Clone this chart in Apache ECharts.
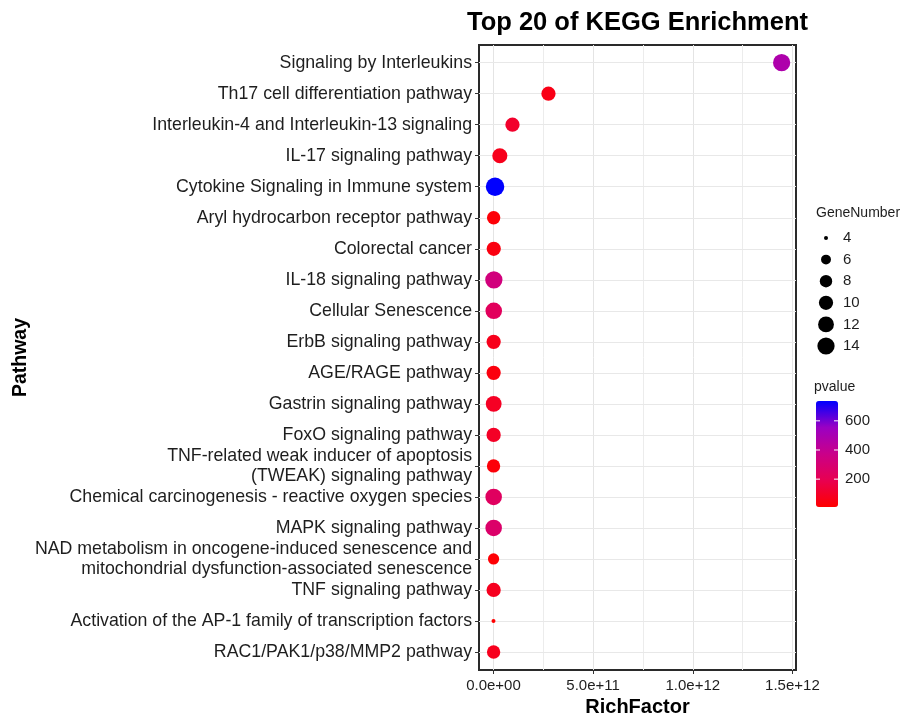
<!DOCTYPE html>
<html>
<head>
<meta charset="utf-8">
<script src="https://cdn.jsdelivr.net/npm/echarts@6/dist/echarts.min.js"></script>
<style>
  html, body { margin: 0; padding: 0; background: #ffffff; }
  #chart { width: 901px; height: 713px; }
</style>
</head>
<body>
<div id="chart"></div>
<script>
// KEGG enrichment: top 20 pathways, ordered top to bottom
const pathways = [
  'Signaling by Interleukins',
  'Th17 cell differentiation pathway',
  'Interleukin-4 and Interleukin-13 signaling',
  'IL-17 signaling pathway',
  'Cytokine Signaling in Immune system',
  'Aryl hydrocarbon receptor pathway',
  'Colorectal cancer',
  'IL-18 signaling pathway',
  'Cellular Senescence',
  'ErbB signaling pathway',
  'AGE/RAGE pathway',
  'Gastrin signaling pathway',
  'FoxO signaling pathway',
  'TNF-related weak inducer of apoptosis\n(TWEAK) signaling pathway',
  'Chemical carcinogenesis - reactive oxygen species',
  'MAPK signaling pathway',
  'NAD metabolism in oncogene-induced senescence and\nmitochondrial dysfunction-associated senescence',
  'TNF signaling pathway',
  'Activation of the AP-1 family of transcription factors',
  'RAC1/PAK1/p38/MMP2 pathway'
];
const richFactor = [
  1.446e12, 2.76e11, 9.55e10, 3.2e10, 8.0e9, 1.0e9, 1.5e9, 2.0e9, 1.5e9, 1.0e9,
  1.0e9, 1.2e9, 1.0e9, 5.0e8, 1.0e9, 1.0e9, 5.0e8, 1.0e9, 3.0e8, 8.0e8
];
const geneNumber = [14, 10, 10, 11, 16, 9, 10, 14, 13, 10, 10, 12, 10, 9, 13, 13, 7, 10, 4, 9];
const pvalue = [480, 60, 110, 70, 736, 25, 45, 330, 230, 70, 40, 90, 95, 30, 240, 270, 20, 80, 9, 75];

// axis ticks and legend breaks
const xMajorTicks = [0, 5e11, 1e12, 1.5e12];
const xMinorTicks = [2.5e11, 7.5e11, 1.25e12];
const sizeBreaks = [4, 6, 8, 10, 12, 14];
const colorBreaks = [200, 400, 600];

const FONT = '"Liberation Sans", Arial, sans-serif';
const TEXT = '#1e1e1e';

const pMin = Math.min(...pvalue), pMax = Math.max(...pvalue);
const gMin = Math.min(...geneNumber), gMax = Math.max(...geneNumber);

// point diameter scales with area (sqrt of rescaled gene count)
function dotSize(g) {
  return 4 + 14.5 * Math.sqrt((g - gMin) / (gMax - gMin));
}

// red -> blue ramp interpolated in Lab space
const ramp = ['#FF0000', '#E80050', '#CA0089', '#9A00C3', '#0000FF'];

function sci(v) {
  if (v === 0) return '0.0e+00';
  const e = Math.floor(Math.log10(Math.abs(v)) + 1e-9);
  const m = v / Math.pow(10, e);
  return m.toFixed(1) + 'e' + (e < 0 ? '-' : '+') + String(Math.abs(e)).padStart(2, '0');
}

const points = pathways.map((p, i) => [richFactor[i], i, geneNumber[i], pvalue[i]]);
const rowIdx = pathways.map((p, i) => i);

// panel geometry
const G = { left: 479, top: 45, right: 105, bottom: 43 };

// legend layout
const sizeLeg = { x: 826, y0: 238, dy: 21.6, labelX: 843 };
const barLeg = { x: 816, top: 401, w: 22, h: 106, labelX: 845 };

const graphics = [];
graphics.push({
  type: 'text', left: 816, top: 206,
  style: { text: 'GeneNumber', font: '14px ' + FONT, fill: TEXT }
});
sizeBreaks.forEach((g, k) => {
  const cy = sizeLeg.y0 + k * sizeLeg.dy;
  graphics.push({
    type: 'circle', shape: { cx: sizeLeg.x, cy: cy, r: dotSize(g) / 2 },
    style: { fill: '#000' }
  });
  graphics.push({
    type: 'text', x: sizeLeg.labelX, y: cy,
    style: { text: String(g), font: '15px ' + FONT, fill: TEXT, textVerticalAlign: 'middle' }
  });
});
graphics.push({
  type: 'text', left: 814, top: 380,
  style: { text: 'pvalue', font: '14px ' + FONT, fill: TEXT }
});
colorBreaks.forEach(v => {
  const y = barLeg.top + barLeg.h * (1 - (v - pMin) / (pMax - pMin));
  graphics.push({
    type: 'line', z: 100,
    shape: { x1: barLeg.x, y1: y, x2: barLeg.x + 4, y2: y },
    style: { stroke: '#ffffff', lineWidth: 1 }
  });
  graphics.push({
    type: 'line', z: 100,
    shape: { x1: barLeg.x + barLeg.w - 4, y1: y, x2: barLeg.x + barLeg.w, y2: y },
    style: { stroke: '#ffffff', lineWidth: 1 }
  });
  graphics.push({
    type: 'text', x: barLeg.labelX, y: y,
    style: { text: String(v), font: '15px ' + FONT, fill: TEXT, textVerticalAlign: 'middle' }
  });
});

const gridLines = []
  .concat(xMajorTicks.map(v => ({ xAxis: v, lineStyle: { color: '#e4e4e4', width: 1, type: 'solid' } })))
  .concat(xMinorTicks.map(v => ({ xAxis: v, lineStyle: { color: '#ececec', width: 1, type: 'solid' } })))
  .concat(rowIdx.map(i => ({ yAxis: i, lineStyle: { color: '#e8e8e8', width: 1, type: 'solid' } })));

const chart = echarts.init(document.getElementById('chart'), null, { renderer: 'canvas' });
chart.setOption({
  animation: false,
  backgroundColor: '#ffffff',
  textStyle: { fontFamily: FONT },
  title: {
    text: 'Top 20 of KEGG Enrichment',
    left: 467, top: 10, padding: 0,
    textStyle: { fontSize: 25.5, fontWeight: 'bold', color: '#000', fontFamily: FONT }
  },
  grid: {
    left: G.left, top: G.top, right: G.right, bottom: G.bottom,
    outerBoundsMode: 'none',
    containLabel: false,
    show: true, borderColor: '#2a2a2a', borderWidth: 2, backgroundColor: '#ffffff'
  },
  xAxis: {
    type: 'value',
    min: -0.0725e12, max: 1.518e12,
    name: 'RichFactor', nameLocation: 'middle', nameGap: 25,
    nameTextStyle: { fontSize: 20, fontWeight: 'bold', color: '#000', fontFamily: FONT, verticalAlign: 'top' },
    axisLine: { show: false, onZero: false },
    axisTick: { show: true, length: 4, customValues: xMajorTicks, lineStyle: { color: '#333', width: 1 } },
    axisLabel: { customValues: xMajorTicks, formatter: sci, fontSize: 15, color: TEXT, margin: 8, fontFamily: FONT },
    splitLine: { show: false }
  },
  yAxis: {
    type: 'value',
    inverse: true,
    min: -0.57, max: pathways.length - 1 + 0.58,
    name: 'Pathway', nameLocation: 'middle', nameGap: 447, nameRotate: 90,
    nameTextStyle: { fontSize: 19.5, fontWeight: 'bold', color: '#000', fontFamily: FONT },
    axisLine: { show: false, onZero: false },
    axisTick: { show: true, length: 4, customValues: rowIdx, lineStyle: { color: '#333', width: 1 } },
    axisLabel: {
      customValues: rowIdx,
      formatter: v => pathways[Math.round(v)],
      fontSize: 17.75, color: TEXT, margin: 7, lineHeight: 20, fontFamily: FONT
    },
    splitLine: { show: false }
  },
  visualMap: {
    type: 'continuous',
    seriesIndex: 0,
    dimension: 3,
    min: pMin, max: pMax,
    calculable: false,
    orient: 'vertical',
    left: barLeg.x, top: barLeg.top,
    itemWidth: barLeg.w, itemHeight: barLeg.h,
    padding: 0,
    text: ['', ''],
    showLabel: false,
    inRange: { color: ramp },
    hoverLink: false
  },
  series: [
    {
      type: 'scatter',
      z: 5,
      data: points,
      symbol: 'circle',
      symbolSize: d => dotSize(d[2]),
      itemStyle: { opacity: 1 }
    },
    {
      type: 'scatter',
      z: 1,
      data: [],
      silent: true,
      markLine: {
        silent: true,
        symbol: ['none', 'none'],
        label: { show: false },
        emphasis: { disabled: true },
        animation: false,
        data: gridLines
      }
    }
  ],
  graphic: graphics
});
</script>
</body>
</html>
